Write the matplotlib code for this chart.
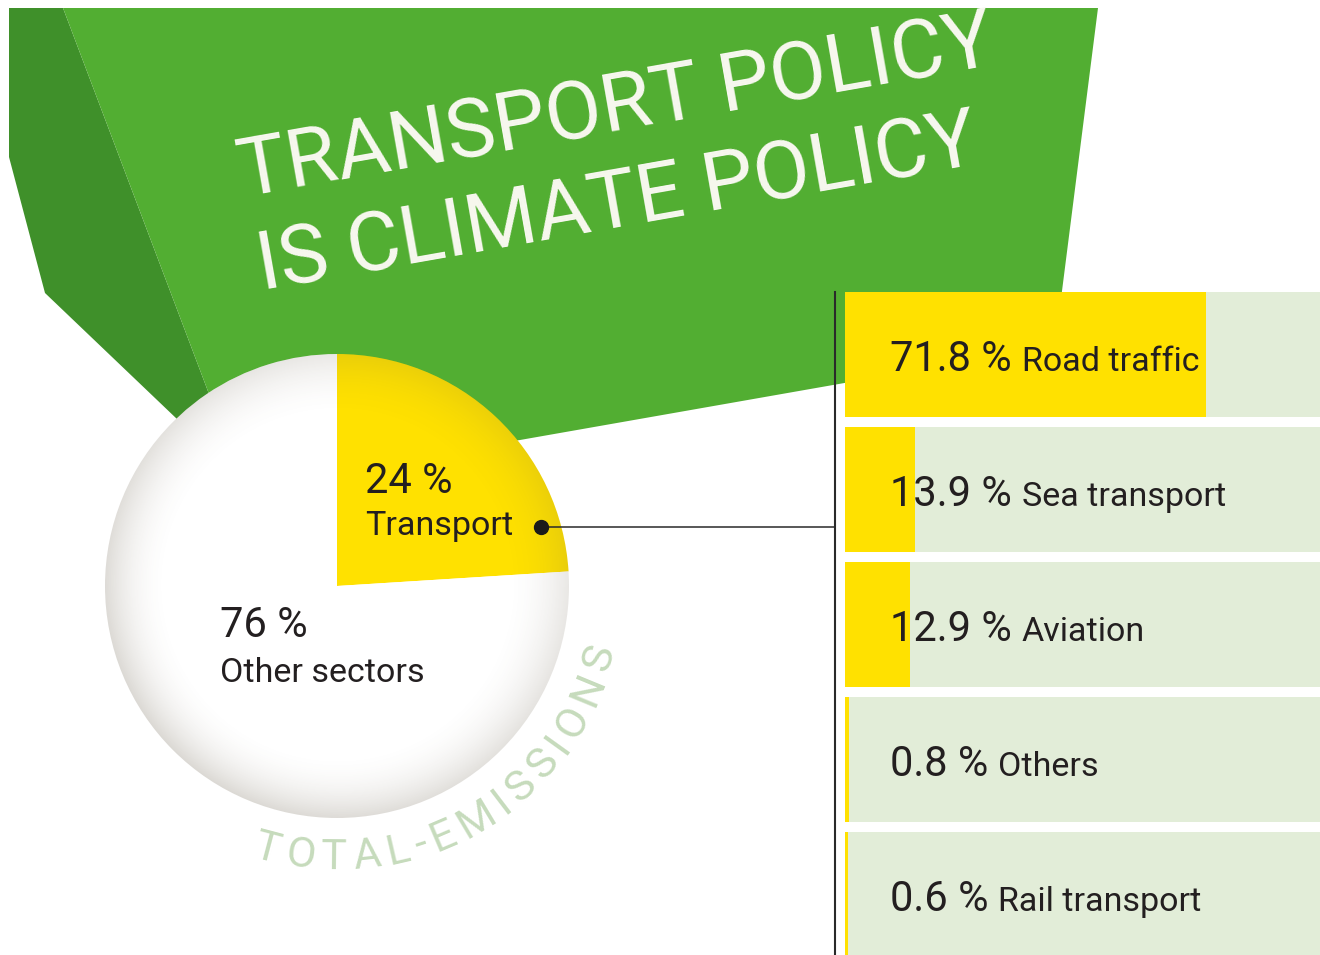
"""Transport policy is climate policy: share of transport in total emissions
and breakdown of transport emissions by mode."""
import numpy as np
import matplotlib
matplotlib.use('Agg')
import matplotlib.pyplot as plt
from matplotlib.patches import Polygon, Circle
from matplotlib.font_manager import FontProperties
from matplotlib.textpath import text_to_path


#
# Data
#
title_lines = ['TRANSPORT POLICY', 'IS CLIMATE POLICY']
pie_labels = ['Transport', 'Other sectors']
pie_values = [24, 76]
categories = ['Road traffic', 'Sea transport', 'Aviation', 'Others', 'Rail transport']
shares = [71.8, 13.9, 12.9, 0.8, 0.6]
arc_label = 'TOTAL-EMISSIONS'

colours = {'green': '#52AE32',
           'dark_green': '#3F902A',
           'yellow': '#FFE100',
           'bar_bg': '#E2EDD8',
           'text': '#231F20',
           'arc': '#C6DBBC',
           'title': '#F8F8F0'}

font = 'Roboto'


#
# Canvas (one axes in pixel units, y pointing down)
#
W, H = 1320, 955
fig = plt.figure(figsize=(W / 100, H / 100), dpi=100)
ax = fig.add_axes([0, 0, 1, 1])

## Green banner
dark_face = [(9, 8), (63, 8), (234, 460), (200, 441), (45, 293), (9, 157)]
light_face = [(63, 8), (1098, 8), (1055, 346), (520, 440), (300, 478), (234, 460)]
ax.add_patch(Polygon(dark_face, closed=True, fc=colours['dark_green'], ec='none', zorder=1))
ax.add_patch(Polygon(light_face, closed=True, fc=colours['green'], ec='none', zorder=1))

ax.text(243, 197, title_lines[0], rotation=10, rotation_mode='anchor',
        ha='left', va='baseline', fontsize=59, family=font,
        color=colours['title'], zorder=5)
ax.text(262, 290, title_lines[1], rotation=10, rotation_mode='anchor',
        ha='left', va='baseline', fontsize=59, family=font,
        color=colours['title'], zorder=5)


#
# Pie of total emissions
#
cx, cy, R = 337, 586, 232
wedges, _ = ax.pie(pie_values, center=(cx, cy), radius=R,
                   startangle=270, counterclock=True,
                   colors=[colours['yellow'], 'white'],
                   wedgeprops={'linewidth': 0, 'zorder': 2})

## soft shading towards the rim
n = 500
g = np.linspace(-1, 1, n)
X, Y = np.meshgrid(g, g)
r = np.hypot(X, Y)
alpha = np.clip((r - 0.72) / 0.28, 0, 1) ** 2 * 0.18
alpha *= 1 + 0.3 * (Y - X) / np.sqrt(2)
rgba = np.zeros((n, n, 4))
rgba[..., 0] = 0.40
rgba[..., 1] = 0.36
rgba[..., 2] = 0.28
rgba[..., 3] = np.clip(alpha, 0, 1)
im = ax.imshow(rgba, extent=(cx - R, cx + R, cy + R, cy - R), origin='upper',
               interpolation='bilinear', zorder=3)
im.set_clip_path(Circle((cx, cy), R, transform=ax.transData))

ax.text(365, 493, '%d %%' % pie_values[0], fontsize=30, family=font,
        color=colours['text'], ha='left', va='baseline', zorder=5)
ax.text(365, 535, pie_labels[0], fontsize=24.5, family=font,
        color=colours['text'], ha='left', va='baseline', zorder=5)
ax.text(220, 637, '%d %%' % pie_values[1], fontsize=30, family=font,
        color=colours['text'], ha='left', va='baseline', zorder=5)
ax.text(220, 682, pie_labels[1], fontsize=24.5, family=font,
        color=colours['text'], ha='left', va='baseline', zorder=5)

## curved label round the pie
fp = FontProperties(family=font, size=31)
widths = [text_to_path.get_text_width_height_descent(ch, fp, ismath=False)[0] * 100 / 72
          for ch in arc_label]
tracking = 6
total = sum(widths) + tracking * (len(arc_label) - 1)
R_arc = 272
phi_start = 60 + np.degrees(total / R_arc) / 2
pos = 0
for ch, w in zip(arc_label, widths):
    phi = phi_start - np.degrees((pos + w / 2) / R_arc)
    x = cx + R_arc * np.cos(np.radians(phi))
    y = cy + R_arc * np.sin(np.radians(phi))
    ax.text(x, y, ch, fontsize=31, family=font, color=colours['arc'],
            rotation=90 - phi, rotation_mode='anchor',
            ha='center', va='center', zorder=5)
    pos += w + tracking


#
# Connector
#
ax.plot([541, 835], [527, 527], '-', color='#2A2A2A', lw=1.1, zorder=4)
ax.plot([835, 835], [292, 955], '-', color='#2A2A2A', lw=1.5, zorder=4)
ax.plot([541], [527], 'o', color='#1A1A1A', ms=10, zorder=6)


#
# Breakdown of transport emissions
#
bar_left, bar_h, pitch = 845, 125, 135
px_per_pct = 5.03
ys = 292 + bar_h / 2 + pitch * np.arange(len(categories))
ax.barh(ys, [W - bar_left] * len(categories), left=bar_left, height=bar_h,
        color=colours['bar_bg'], zorder=2)
ax.barh(ys, np.array(shares) * px_per_pct, left=bar_left, height=bar_h,
        color=colours['yellow'], zorder=2)
for y, s, c in zip(ys, shares, categories):
    t = ax.text(890, y + 16, '%.1f %%' % s, fontsize=30, family=font,
                color=colours['text'], ha='left', va='baseline', zorder=5)
    ax.annotate(c, xy=(1, y + 16), xycoords=(t, 'data'),
                xytext=(10, 0), textcoords='offset pixels',
                fontsize=24.5, family=font, color=colours['text'],
                ha='left', va='baseline', zorder=5)

ax.set_xlim(0, W)
ax.set_ylim(H, 0)
ax.set_aspect('auto')
ax.axis('off')

plt.savefig('out.png', dpi=100)
